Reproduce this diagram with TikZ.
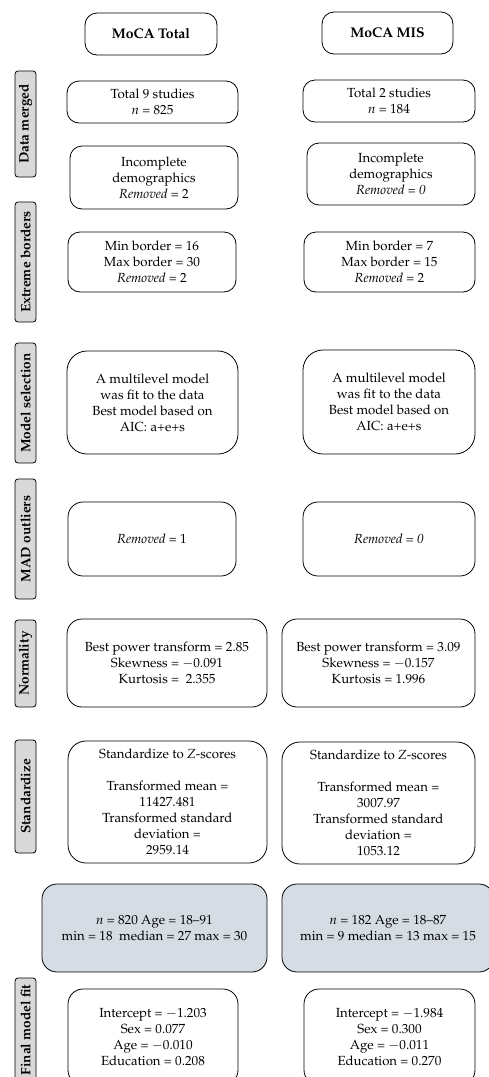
\documentclass[tikz,border=0pt]{standalone}
\usepackage[T1]{fontenc}
\usepackage{mathpazo}
\definecolor{sidegray}{HTML}{D9D9D9}
\definecolor{bluegray}{HTML}{D6DCE4}
\tikzset{
  box/.style={draw, line width=0.8pt, rounded corners=12pt, align=center, inner sep=0pt,
    font=\fontsize{13.2}{16}\selectfont},
  headbox/.style={box, font=\fontsize{14}{16}\selectfont\bfseries},
  graybox/.style={box, fill=bluegray, rounded corners=15pt},
  sidelab/.style={draw, line width=0.8pt, fill=sidegray, rounded corners=3pt, rotate=90,
    inner sep=0pt, minimum height=21pt, font=\fontsize{13.6}{16}\selectfont\bfseries}
}
\begin{document}
\begin{tikzpicture}[x=1pt,y=-1pt]
\useasboundingbox (0,0) rectangle (489,1077);
\clip (0,0) rectangle (489,1077);
% headings
\node[headbox, minimum width=132pt, minimum height=42pt] (hT) at (151,34) {MoCA Total};
\node[headbox, minimum width=131pt, minimum height=42pt] (hM) at (387.5,33) {MoCA MIS};
% side labels
\node[sidelab, minimum width=106pt] (sDM) at (25.5,124) {Data merged};
\node[sidelab, minimum width=120pt] (sEB) at (25.5,262) {Extreme borders};
\node[sidelab, minimum width=120pt] (sMS) at (25.5,403) {Model selection};
\node[sidelab, minimum width=120pt] (sMA) at (25.5,539) {MAD outliers};
\node[sidelab, minimum width=87pt] (sNO) at (25.5,663.5) {Normality};
\node[sidelab, minimum width=113pt] (sST) at (25.5,796.5) {Standardize};
\node[sidelab, minimum width=104pt] (sFM) at (25.5,1030) {Final model fit};
% row 1
\node[box, minimum width=171pt, minimum height=42pt] (L1) at (152.5,102) {Total 9 studies\\ \textit{n} = 825};
\node[box, minimum width=172pt, minimum height=42pt] (R1) at (389,101) {Total 2 studies\\ \textit{n} = 184};
% row 2
\node[box, minimum width=168pt, minimum height=63pt] (L2) at (154,177.5) {Incomplete\\ demographics\\ \textit{Removed} = 2};
\node[box, minimum width=168pt, minimum height=62pt] (R2) at (391,174) {Incomplete\\ demographics\\ \textit{Removed = 0}};
% row 3
\node[box, minimum width=168pt, minimum height=60pt] (L3) at (152,262) {Min border = 16\\ Max border = 30\\ \textit{Removed} = 2};
\node[box, minimum width=171pt, minimum height=60pt] (R3) at (389.5,262) {Min border = 7\\ Max border = 15\\ \textit{Removed} = 2};
% row 4
\node[box, rounded corners=20pt, minimum width=171pt, minimum height=103pt] (L4) at (152.5,402.5) {A multilevel model\\ was fit to the data\\ Best model based on\\ AIC: a+e+s};
\node[box, rounded corners=20pt, minimum width=172pt, minimum height=104pt] (R4) at (389,402) {A multilevel model\\ was fit to the data\\ Best model based on\\ AIC: a+e+s};
% row 5
\node[box, rounded corners=15pt, minimum width=168pt, minimum height=74pt] (L5) at (152,539) {\textit{Removed} = 1};
\node[box, rounded corners=15pt, minimum width=172pt, minimum height=74pt] (R5) at (389,539) {\textit{Removed = 0}};
% row 6
\node[box, rounded corners=15pt, minimum width=200pt, minimum height=88pt] (L6) at (167,663) {Best power transform = 2.85\\ Skewness = $-$0.091\\ Kurtosis = \ 2.355};
\node[box, rounded corners=15pt, minimum width=193pt, minimum height=88pt] (R6) at (378.5,663) {Best power transform = 3.09\\ Skewness = $-$0.157\\ Kurtosis = 1.996};
% row 7
\node[box, rounded corners=18pt, minimum width=199pt, minimum height=122pt] (L7) at (167.5,802) {Standardize to \textit{Z}-scores\\[16pt] Transformed mean =\\ 11427.481\\ Transformed standard\\ deviation =\\ 2959.14};
\node[box, rounded corners=18pt, minimum width=193pt, minimum height=122pt] (R7) at (378.5,803) {Standardize to \textit{Z}-scores\\[16pt] Transformed mean =\\ 3007.97\\ Transformed standard\\ deviation =\\ 1053.12};
% row 8 (gray)
\node[graybox, minimum width=225pt, minimum height=88pt] (G1) at (154.5,928) {\textit{n} = 820 Age = 18--91\\ min = 18 \ median = 27 max = 30};
\node[graybox, minimum width=212pt, minimum height=88pt] (G2) at (388,928) {\textit{n} = 182 Age = 18--87\\ min = 9 median = 13 max = 15};
% row 9
\node[box, rounded corners=15pt, minimum width=170pt, minimum height=96pt] (L9) at (153,1037) {Intercept = $-$1.203\\ Sex = 0.077\\ Age = $-$0.010\\ Education = 0.208};
\node[box, rounded corners=15pt, minimum width=171pt, minimum height=96pt] (R9) at (389.5,1037) {Intercept = $-$1.984\\ Sex = 0.300\\ Age = $-$0.011\\ Education = 0.270};
\end{tikzpicture}
\end{document}
